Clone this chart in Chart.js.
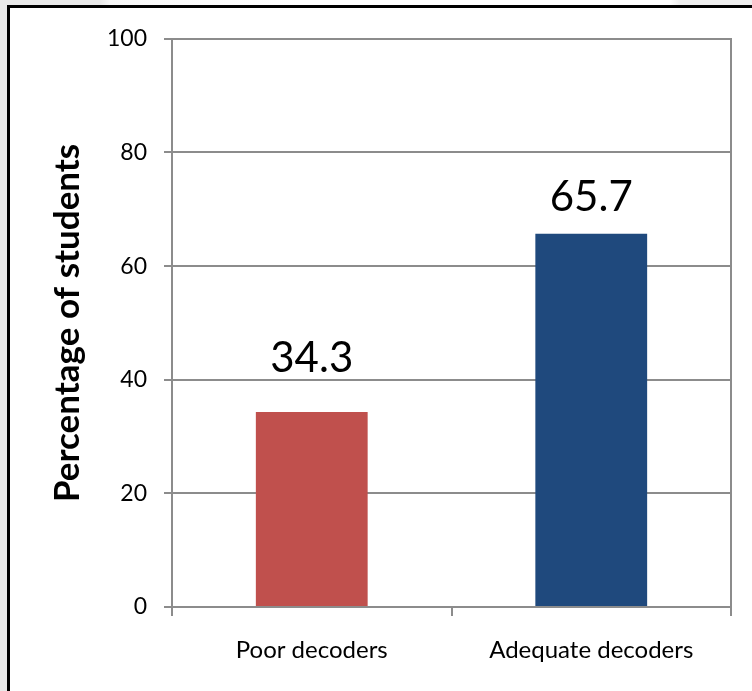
<!DOCTYPE html>
<html>
<head>
<meta charset="utf-8">
<script src="https://cdn.jsdelivr.net/npm/chart.js@4"></script>
<style>
  html, body { margin: 0; padding: 0; }
  body {
    width: 752px; height: 691px; overflow: hidden; position: relative;
    background: linear-gradient(to right, #e9e9e9 0px, #e9e9e9 100px, #f7f7f7 110px, #ffffff 300px, #ffffff 670px, #eeeeee 680px);
  }
  #frame {
    position: absolute; left: 7px; top: 5px; right: 0; bottom: 0;
    background: #fff; border-top: 3px solid #000; border-left: 3px solid #000;
  }
  #wrap { position: absolute; left: 10px; top: 8px; width: 742px; height: 683px; }
</style>
</head>
<body>
<div id="frame"></div>
<div id="wrap"><canvas id="chart1"></canvas></div>
<script>
// data
const categories = ["Poor decoders", "Adequate decoders"];
const percentages = [34.3, 65.7];
const barColours = ["#c0504d", "#1f497d"];
const yTicks = [0, 20, 40, 60, 80, 100];

const gridGrey = "#8c8c8c";

// value labels above the bars
const valueLabels = {
    id: "valueLabels",
    afterDatasetsDraw(chart, args, opts) {
        const ctx = chart.ctx;
        const meta = chart.getDatasetMeta(0);
        ctx.save();
        ctx.font = "42px Lato";
        ctx.fillStyle = "#000";
        ctx.textAlign = "center";
        ctx.textBaseline = "alphabetic";
        meta.data.forEach((bar, i) => {
            ctx.fillText(percentages[i].toFixed(1), bar.x, bar.y - opts.gaps[i]);
        });
        ctx.restore();
    }
};

const ctx1 = document.getElementById("chart1").getContext("2d");
const decoderChart = new Chart(ctx1, {
    type: "bar",
    data: {
        labels: categories,
        datasets: [{
            data: percentages,
            backgroundColor: barColours,
            barPercentage: 0.8,
            categoryPercentage: 0.5
        }]
    },
    options: {
        responsive: true,
        maintainAspectRatio: false,
        animation: false,
        layout: { padding: { top: 29, right: 21, left: 0, bottom: 0 } },
        scales: {
            x: {
                grid: { display: true, drawOnChartArea: false, tickLength: 9, color: gridGrey, lineWidth: 2 },
                border: { color: gridGrey, width: 2 },
                ticks: { color: "#000", font: { family: "Lato", size: 24 }, padding: 20 },
                afterFit: s => { s.height = 84; }
            },
            y: {
                min: 0,
                max: 100,
                afterBuildTicks: s => { s.ticks = yTicks.map(v => ({ value: v })); },
                grid: { color: gridGrey, lineWidth: 2, tickLength: 8 },
                border: { color: gridGrey, width: 2 },
                ticks: { color: "#000", font: { family: "Lato", size: 23 }, padding: 17 },
                title: {
                    display: true,
                    text: "Percentage of students",
                    color: "#000",
                    font: { family: "Lato", size: 35, weight: "bold" },
                    padding: { top: 37, bottom: 0 }
                },
                afterFit: s => { s.width = 162; }
            },
            yRight: {
                position: "right",
                min: 0,
                max: 100,
                grid: { display: false },
                ticks: { display: false },
                border: { display: true, color: gridGrey, width: 2 },
                afterFit: s => { s.width = 0; }
            }
        },
        plugins: {
            legend: { display: false },
            tooltip: { enabled: false },
            valueLabels: { gaps: [40, 23] }
        }
    },
    plugins: [valueLabels]
});
</script>
</body>
</html>
